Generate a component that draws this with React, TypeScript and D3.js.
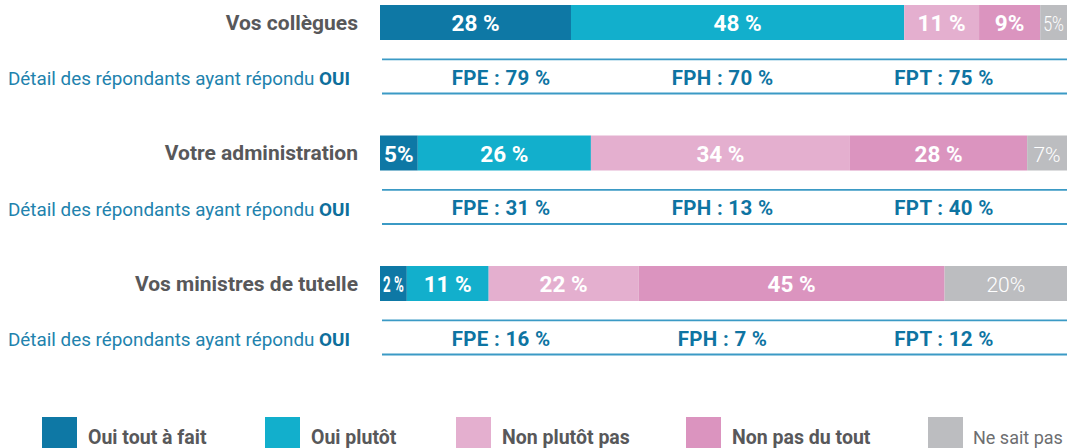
import React, { useEffect, useRef } from "react";
import * as d3 from "d3";

const categories = ["Vos collègues", "Votre administration", "Vos ministres de tutelle"];
const responses = ["Oui tout à fait", "Oui plutôt", "Non plutôt pas", "Non pas du tout", "Ne sait pas"];
const colors = ["#0e78a5", "#12afcc", "#e4afcf", "#db94bf", "#bcbdc0"];

// bar shares as drawn in the picture (%)
const collegues = [27.8, 48.5, 10.9, 8.9, 3.9];
const administration = [5.5, 25.2, 37.7, 25.8, 5.8];
const ministres = [3.9, 11.9, 21.8, 44.5, 17.8];
const shares = [collegues, administration, ministres];

// printed labels
const colleguesLabels = ["28 %", "48 %", "11 %", "9%", "5%"];
const administrationLabels = ["5%", "26 %", "34 %", "28 %", "7%"];
const ministresLabels = ["2 %", "11 %", "22 %", "45 %", "20%"];
const labels = [colleguesLabels, administrationLabels, ministresLabels];

const fonctions = ["FPE", "FPH", "FPT"];
const ouiCollegues = [79, 70, 75];
const ouiAdministration = [31, 13, 40];
const ouiMinistres = [16, 7, 12];
const ouiValues = [ouiCollegues, ouiAdministration, ouiMinistres];

const W = 1067;
const H = 448;
const FONT = "Roboto, 'Noto Sans', sans-serif";

export default function App() {
  const ref = useRef<SVGSVGElement>(null);

  const y = d3.scalePoint<string>().domain(categories).range([5, 266]);
  const barH = 35;
  const fx = d3.scalePoint<string>().domain(fonctions).range([501, 944]);

  useEffect(() => {
    if (!ref.current) return;
    const svg = d3.select(ref.current);
    svg.selectAll<SVGTextElement, unknown>("text[data-maxw]").each(function () {
      const maxw = +(this.getAttribute("data-maxw") || 0);
      const cx = +(this.getAttribute("x") || 0);
      const len = this.getComputedTextLength();
      if (len > maxw) {
        const s = maxw / len;
        this.setAttribute("transform", `translate(${cx},0) scale(${s},1) translate(${-cx},0)`);
      }
    });
    svg.selectAll<SVGTextElement, unknown>("text[data-fitw]").each(function () {
      const w = +(this.getAttribute("data-fitw") || 0);
      this.setAttribute("textLength", String(w));
      this.setAttribute("lengthAdjust", "spacingAndGlyphs");
    });
  }, []);

  return (
    <svg
      ref={ref}
      width={W}
      height={H}
      style={{ position: "absolute", left: 0, top: 0, background: "#fff" }}
      fontFamily={FONT}
    >
      {categories.map((cat, i) => {
        const top = y(cat)!;
        const vals = shares[i];
        const sum = d3.sum(vals);
        const x = d3.scaleLinear().domain([0, sum]).range([380, W]);
        const cum = d3.cumsum(vals);
        return (
          <g key={cat}>
            <text
              x={358}
              y={top + 24.5}
              textAnchor="end"
              fontSize={21}
              fontWeight={700}
              fill="#58585a"
            >
              {cat}
            </text>
            {vals.map((v, j) => {
              const x0 = x(cum[j] - v);
              const x1 = x(cum[j]);
              const isGrey = j === 4;
              return (
                <g key={j}>
                  <rect x={x0} y={top} width={x1 - x0} height={barH} fill={colors[j]} />
                  <text
                    x={(x0 + x1) / 2}
                    y={top + 26}
                    textAnchor="middle"
                    fontSize={isGrey ? 21 : 22.5}
                    fontWeight={isGrey ? 300 : 700}
                    fill="#fff"
                    data-maxw={x1 - x0 - 6}
                  >
                    {labels[i][j]}
                  </text>
                </g>
              );
            })}
            <line x1={382} x2={W} y1={top + 54.3} y2={top + 54.3} stroke="#3b9ac5" strokeWidth={1.8} />
            <line x1={382} x2={W} y1={top + 88.5} y2={top + 88.5} stroke="#3b9ac5" strokeWidth={1.8} />
            <text x={8} y={top + 80} fontSize={18.5} fill="#2182ad" data-fitw={342}>
              Détail des répondants ayant répondu{" "}
              <tspan fontWeight={700} fill="#0e6f9c">OUI</tspan>
            </text>
            {fonctions.map((f, k) => (
              <text
                key={f}
                x={fx(f)}
                y={top + 79.5}
                textAnchor="middle"
                fontSize={20.5}
                fontWeight={700}
                letterSpacing={0.3}
                fill="#0e74a2"
              >
                {`${f} : ${ouiValues[i][k]} %`}
              </text>
            ))}
          </g>
        );
      })}
      {/* legend */}
      {responses.map((r, j) => {
        const lx = [42, 265, 456, 686, 928][j];
        const last = j === 4;
        return (
          <g key={r}>
            <rect x={lx} y={417} width={35} height={35} fill={colors[j]} />
            <text
              x={lx + (last ? 45 : 46)}
              y={444}
              fontSize={last ? 18 : 19.5}
              fontWeight={last ? 400 : 700}
              fill={last ? "#6d6e70" : "#58585a"}
            >
              {r}
            </text>
          </g>
        );
      })}
    </svg>
  );
}
